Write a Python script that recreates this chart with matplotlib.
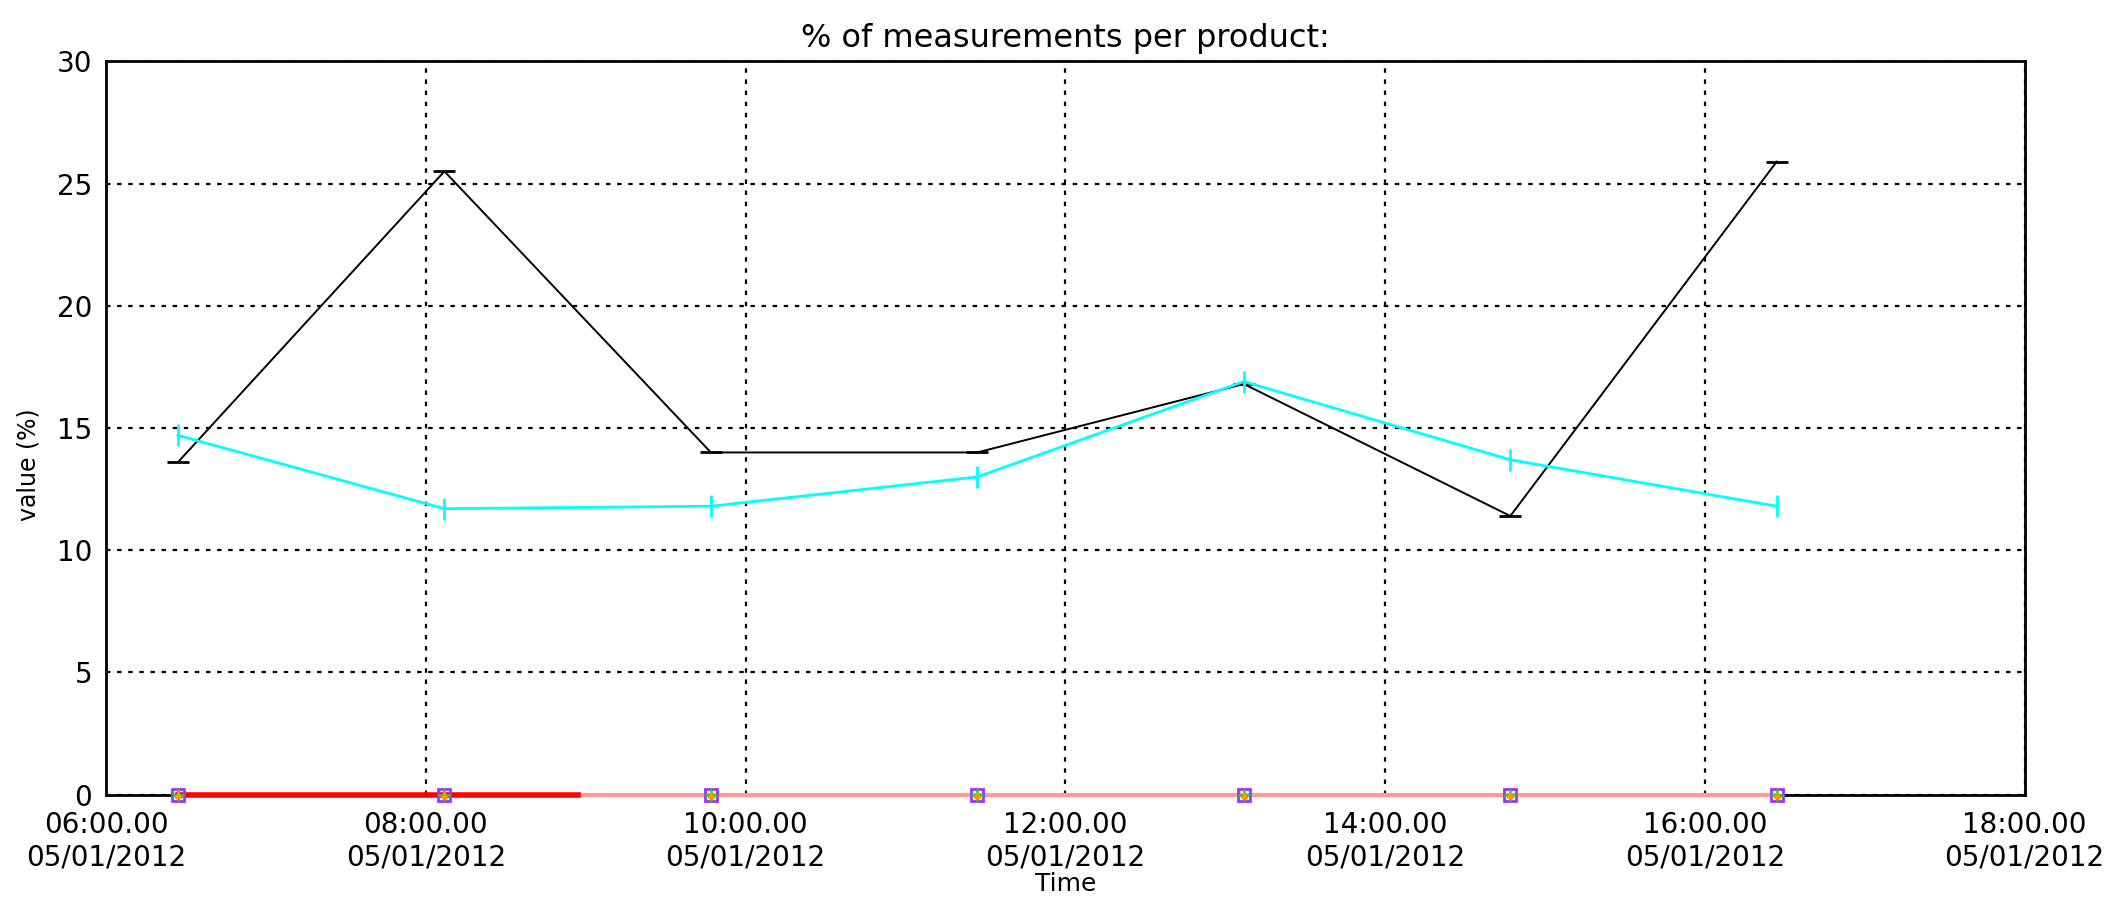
import pandas as pd
import matplotlib
matplotlib.use("Agg")
import matplotlib.pyplot as plt
import matplotlib.dates as mdates

# sample times (every ~100 minutes)
times = pd.to_datetime([
    "2012-05-01 06:27", "2012-05-01 08:07", "2012-05-01 09:47",
    "2012-05-01 11:27", "2012-05-01 13:07", "2012-05-01 14:47",
    "2012-05-01 16:27",
])
red_times = pd.to_datetime(["2012-05-01 06:27", "2012-05-01 08:07", "2012-05-01 08:57"])

black_vals = [13.6, 25.5, 14.0, 14.0, 16.8, 11.4, 25.9]
cyan_vals = [14.7, 11.7, 11.8, 13.0, 16.9, 13.7, 11.8]
zero_vals = [0, 0, 0, 0, 0, 0, 0]
red_vals = [0, 0, 0]

x_start = pd.Timestamp("2012-05-01 06:00")
x_end = pd.Timestamp("2012-05-01 18:00")

plt.rcParams["font.family"] = ["DejaVu Sans"]

fig = plt.figure(figsize=(21.2, 9.02), dpi=100)
ax = fig.add_axes([0.05, 0.119, 0.905, 0.813])

# zero-valued products (drawn on top of the bottom spine)
ax.plot(times, zero_vals, color="#ff9a9a", linewidth=3, zorder=3, clip_on=False)
ax.plot(red_times, red_vals, color="#ff0000", linewidth=4, zorder=4, clip_on=False)
ax.plot(times, zero_vals, linestyle="none", marker="s", markersize=9,
        markerfacecolor="none", markeredgecolor="#9933ff", markeredgewidth=2,
        zorder=5, clip_on=False)
ax.plot(times, zero_vals, linestyle="none", marker="+", markersize=8,
        color="#33cc33", markeredgewidth=2, zorder=6, clip_on=False)
ax.plot(times, zero_vals, linestyle="none", marker="^", markersize=5,
        color="#ff9900", zorder=6, clip_on=False)

# main products
ax.plot(times, black_vals, color="black", linewidth=1.4, marker="_",
        markersize=16, markeredgewidth=2, zorder=7)
ax.plot(times, cyan_vals, color="#00ffff", linewidth=2, marker="|",
        markersize=16, markeredgewidth=2, zorder=7)

ax.set_xlim(x_start, x_end)
ax.set_ylim(0, 30)
ax.xaxis.set_major_locator(mdates.HourLocator(byhour=range(0, 24, 2)))
ax.xaxis.set_major_formatter(mdates.DateFormatter("%H:%M.%S\n%m/%d/%Y"))
ax.set_yticks([0, 5, 10, 15, 20, 25, 30])

ax.grid(True, color="black", linestyle=(0, (2, 3)), linewidth=1.6)
ax.tick_params(length=0, labelsize=20, pad=10)
ax.tick_params(axis="x", pad=12)
for s in ax.spines.values():
    s.set_linewidth(2)

ax.set_title("% of measurements per product:", fontsize=23, pad=10)
ax.set_xlabel("Time", fontsize=18, labelpad=0)
ax.set_ylabel("value (%)", fontsize=17, labelpad=10)
ax.yaxis.set_label_coords(-0.034, 0.45)

fig.savefig("out.png", dpi=100)
